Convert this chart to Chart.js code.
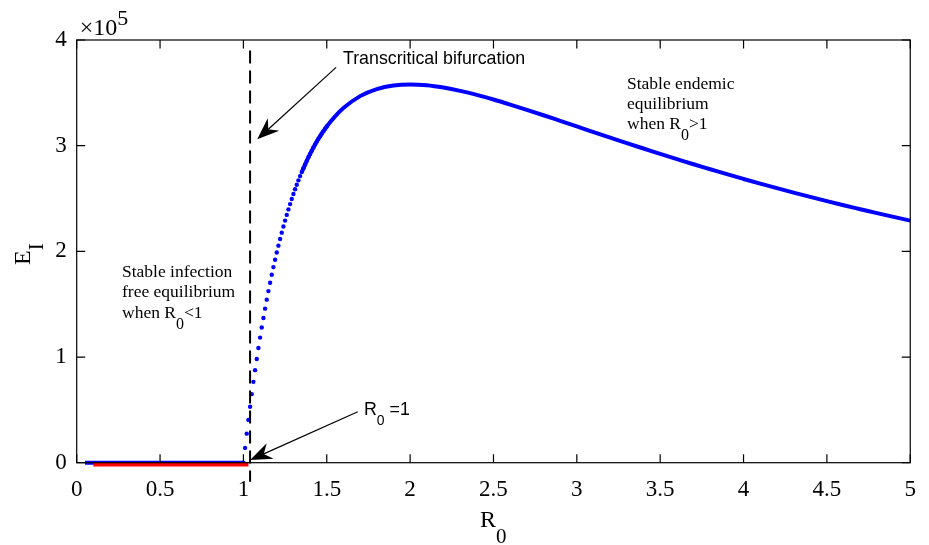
<!DOCTYPE html>
<html>
<head>
<meta charset="utf-8">
<script src="https://cdn.jsdelivr.net/npm/chart.js@4/dist/chart.umd.min.js"></script>
<style>
  html, body { margin: 0; padding: 0; background: #fff; }
  #wrap { width: 929px; height: 545px; position: relative; }
</style>
</head>
<body>
<div id="wrap"><canvas id="c" width="929" height="545"></canvas></div>
<script>
// Endemic equilibrium E_I (in units of 1e5) against the basic reproduction number R0.

// Solid branch of the endemic equilibrium
const curveR = [1.35, 1.40, 1.45, 1.50, 1.55, 1.60, 1.70, 1.80, 1.90, 2.00,
                2.10, 2.20, 2.30, 2.40, 2.50, 2.60, 2.70, 2.80, 2.90, 3.00,
                3.10, 3.20, 3.30, 3.40, 3.50, 3.60, 3.70, 3.80, 3.90, 4.00,
                4.10, 4.20, 4.30, 4.40, 4.50, 4.60, 4.70, 4.80, 4.90, 5.00];
const curveE = [2.750, 2.922, 3.065, 3.182, 3.278, 3.356, 3.469, 3.536, 3.570, 3.580,
                3.572, 3.550, 3.519, 3.481, 3.437, 3.389, 3.339, 3.288, 3.235, 3.182,
                3.129, 3.077, 3.024, 2.973, 2.922, 2.873, 2.824, 2.777, 2.730, 2.685,
                2.641, 2.598, 2.556, 2.515, 2.475, 2.436, 2.399, 2.362, 2.326, 2.291];

// Steep start of the endemic branch, sampled points
const dotR = [1.00, 1.01, 1.02, 1.03, 1.04, 1.05, 1.06, 1.07, 1.08, 1.09,
              1.10, 1.11, 1.12, 1.13, 1.14, 1.15, 1.16, 1.17, 1.18, 1.19,
              1.20, 1.21, 1.22, 1.23, 1.24, 1.25, 1.26, 1.27, 1.28, 1.29,
              1.30, 1.31, 1.32, 1.33, 1.34, 1.35, 1.36, 1.37, 1.38, 1.39,
              1.40, 1.41, 1.42, 1.43, 1.44, 1.45, 1.46, 1.47, 1.48, 1.49, 1.50];
const dotE = [0.000, 0.140, 0.275, 0.405, 0.530, 0.649, 0.765, 0.876, 0.982, 1.085,
              1.184, 1.279, 1.370, 1.458, 1.543, 1.624, 1.703, 1.778, 1.851, 1.921,
              1.989, 2.054, 2.117, 2.177, 2.235, 2.291, 2.345, 2.397, 2.447, 2.496,
              2.542, 2.587, 2.630, 2.672, 2.712, 2.750, 2.787, 2.823, 2.857, 2.891,
              2.922, 2.953, 2.983, 3.011, 3.039, 3.065, 3.090, 3.115, 3.138, 3.161, 3.182];

// Infection-free equilibrium (blue) and its stable part (red)
const freeR = [0.05, 1.00];
const freeE = [0, 0];
const stableFreeR = [0.10, 1.03];
const stableFreeE = [-0.015, -0.015];

// Bifurcation marker
const bifR = [1.04, 1.04];
const bifE = [3.90, -0.18];

// Axis ticks
const xTickMin = 0, xTickMax = 5, xTickStep = 0.5;
const yTickMin = 0, yTickMax = 4, yTickStep = 1;

const pts = (xs, ys) => xs.map((x, i) => ({ x: x, y: ys[i] }));

const SERIF = '"Liberation Serif", "Times New Roman", serif';
const SANS = '"Liberation Sans", Arial, sans-serif';

function drawRich(ctx, parts, x, y) {
  let cx = x;
  for (const p of parts) {
    ctx.font = p.size + 'px ' + p.family;
    ctx.fillText(p.t, cx, y + (p.dy || 0));
    cx += ctx.measureText(p.t).width;
  }
}

function arrow(ctx, x0, y0, x1, y1) {
  const dx = x1 - x0, dy = y1 - y0, len = Math.hypot(dx, dy);
  const ux = dx / len, uy = dy / len, px = -uy, py = ux;
  const L = 22, W = 8.5, N = 15;
  ctx.beginPath();
  ctx.moveTo(x0, y0);
  ctx.lineTo(x1 - ux * N, y1 - uy * N);
  ctx.stroke();
  ctx.beginPath();
  ctx.moveTo(x1, y1);
  ctx.lineTo(x1 - ux * L + px * W, y1 - uy * L + py * W);
  ctx.lineTo(x1 - ux * N, y1 - uy * N);
  ctx.lineTo(x1 - ux * L - px * W, y1 - uy * L - py * W);
  ctx.closePath();
  ctx.fill();
}

const decorations = {
  id: 'decorations',
  afterDraw(chart) {
    const ctx = chart.ctx;
    const a = chart.chartArea;
    const xs = chart.scales.x, ys = chart.scales.y;
    ctx.save();
    ctx.strokeStyle = '#000';
    ctx.fillStyle = '#000';

    // frame
    ctx.lineWidth = 1.2;
    ctx.strokeRect(a.left, a.top, a.right - a.left, a.bottom - a.top);

    // inward ticks on all four sides
    const tl = 8.5;
    ctx.beginPath();
    for (const t of xs.ticks) {
      const px = xs.getPixelForValue(t.value);
      ctx.moveTo(px, a.bottom); ctx.lineTo(px, a.bottom - tl);
      ctx.moveTo(px, a.top); ctx.lineTo(px, a.top + tl);
    }
    for (const t of ys.ticks) {
      const py = ys.getPixelForValue(t.value);
      ctx.moveTo(a.left, py); ctx.lineTo(a.left + tl, py);
      ctx.moveTo(a.right, py); ctx.lineTo(a.right - tl, py);
    }
    ctx.stroke();

    ctx.textAlign = 'left';
    ctx.textBaseline = 'alphabetic';

    // exponent label
    drawRich(ctx, [
      { t: '\u00D710', size: 24, family: SERIF },
      { t: '5', size: 22, family: SERIF, dy: -10 }
    ], a.left + 3, 35);

    // axis titles
    drawRich(ctx, [
      { t: 'R', size: 24, family: SERIF },
      { t: '0', size: 21, family: SERIF, dy: 16 }
    ], 480, 527);

    ctx.save();
    ctx.translate(30, 265);
    ctx.rotate(-Math.PI / 2);
    drawRich(ctx, [
      { t: 'E', size: 24, family: SERIF },
      { t: 'I', size: 21, family: SERIF, dy: 13 }
    ], 0, 0);
    ctx.restore();

    // annotations
    ctx.font = '17.8px ' + SANS;
    ctx.fillText('Transcritical bifurcation', 343, 64);
    drawRich(ctx, [
      { t: 'R', size: 17.8, family: SANS },
      { t: '0', size: 14, family: SANS, dy: 10 },
      { t: ' =1', size: 17.8, family: SANS }
    ], 364, 415);

    ctx.font = '17.5px ' + SERIF;
    ctx.fillText('Stable endemic', 627, 88.5);
    ctx.fillText('equilibrium', 627, 108.5);
    drawRich(ctx, [
      { t: 'when R', size: 17.5, family: SERIF },
      { t: '0', size: 16, family: SERIF, dy: 11 },
      { t: '>1', size: 17.5, family: SERIF }
    ], 627, 128.5);

    ctx.font = '17.5px ' + SERIF;
    ctx.fillText('Stable infection', 122, 276.5);
    ctx.fillText('free equilibrium', 122, 297);
    drawRich(ctx, [
      { t: 'when R', size: 17.5, family: SERIF },
      { t: '0', size: 16, family: SERIF, dy: 11 },
      { t: '<1', size: 17.5, family: SERIF }
    ], 122, 317.5);

    // arrows
    ctx.lineWidth = 1.2;
    arrow(ctx, xs.getPixelForValue(1.556), ys.getPixelForValue(3.741),
               xs.getPixelForValue(1.083), ys.getPixelForValue(3.06));
    arrow(ctx, xs.getPixelForValue(1.686), ys.getPixelForValue(0.482),
               xs.getPixelForValue(1.04), ys.getPixelForValue(0.025));

    ctx.restore();
  }
};

const tickFont = { family: SERIF, size: 23 };

new Chart(document.getElementById('c'), {
  type: 'scatter',
  data: {
    datasets: [
      { data: pts(bifR, bifE), showLine: true, borderColor: '#000', borderWidth: 2,
        borderDash: [13, 7], pointRadius: 0, clip: false, order: 0 },
      { data: pts(stableFreeR, stableFreeE), showLine: true, borderColor: '#ff0000', borderWidth: 4.5,
        pointRadius: 0, clip: false, order: 1 },
      { data: pts(freeR, freeE), showLine: true, borderColor: '#0000ff', borderWidth: 4,
        pointRadius: 0, clip: false, order: 2 },
      { data: pts(dotR, dotE), showLine: false, pointRadius: 2.2, pointBorderWidth: 0,
        pointBackgroundColor: '#0000ff', clip: false, order: 3 },
      { data: pts(curveR, curveE), showLine: true, borderColor: '#0000ff', borderWidth: 4,
        cubicInterpolationMode: 'monotone', pointRadius: 0, clip: false, order: 4 }
    ]
  },
  options: {
    responsive: false,
    animation: false,
    devicePixelRatio: 1,
    layout: { padding: 0 },
    plugins: { legend: { display: false }, tooltip: { enabled: false } },
    scales: {
      x: {
        type: 'linear', position: 'bottom', min: xTickMin, max: xTickMax,
        afterFit(s) { s.height = 82.3; },
        grid: { display: false, drawTicks: false }, border: { display: false },
        ticks: { stepSize: xTickStep, padding: 13, color: '#000', font: tickFont,
                 maxRotation: 0, autoSkip: false, callback: v => String(v) }
      },
      y: {
        type: 'linear', position: 'left', min: yTickMin, max: yTickMax,
        afterFit(s) { s.width = 76.7; },
        grid: { display: false, drawTicks: false }, border: { display: false },
        ticks: { stepSize: yTickStep, padding: 10, color: '#000', font: tickFont,
                 callback: v => String(v) }
      },
      xTop: {
        type: 'linear', position: 'top', min: xTickMin, max: xTickMax,
        afterFit(s) { s.height = 40; },
        grid: { display: false, drawTicks: false }, border: { display: false },
        ticks: { display: false }
      },
      yRight: {
        type: 'linear', position: 'right', min: yTickMin, max: yTickMax,
        afterFit(s) { s.width = 16.5; },
        grid: { display: false, drawTicks: false }, border: { display: false },
        ticks: { display: false }
      }
    }
  },
  plugins: [decorations]
});
</script>
</body>
</html>
